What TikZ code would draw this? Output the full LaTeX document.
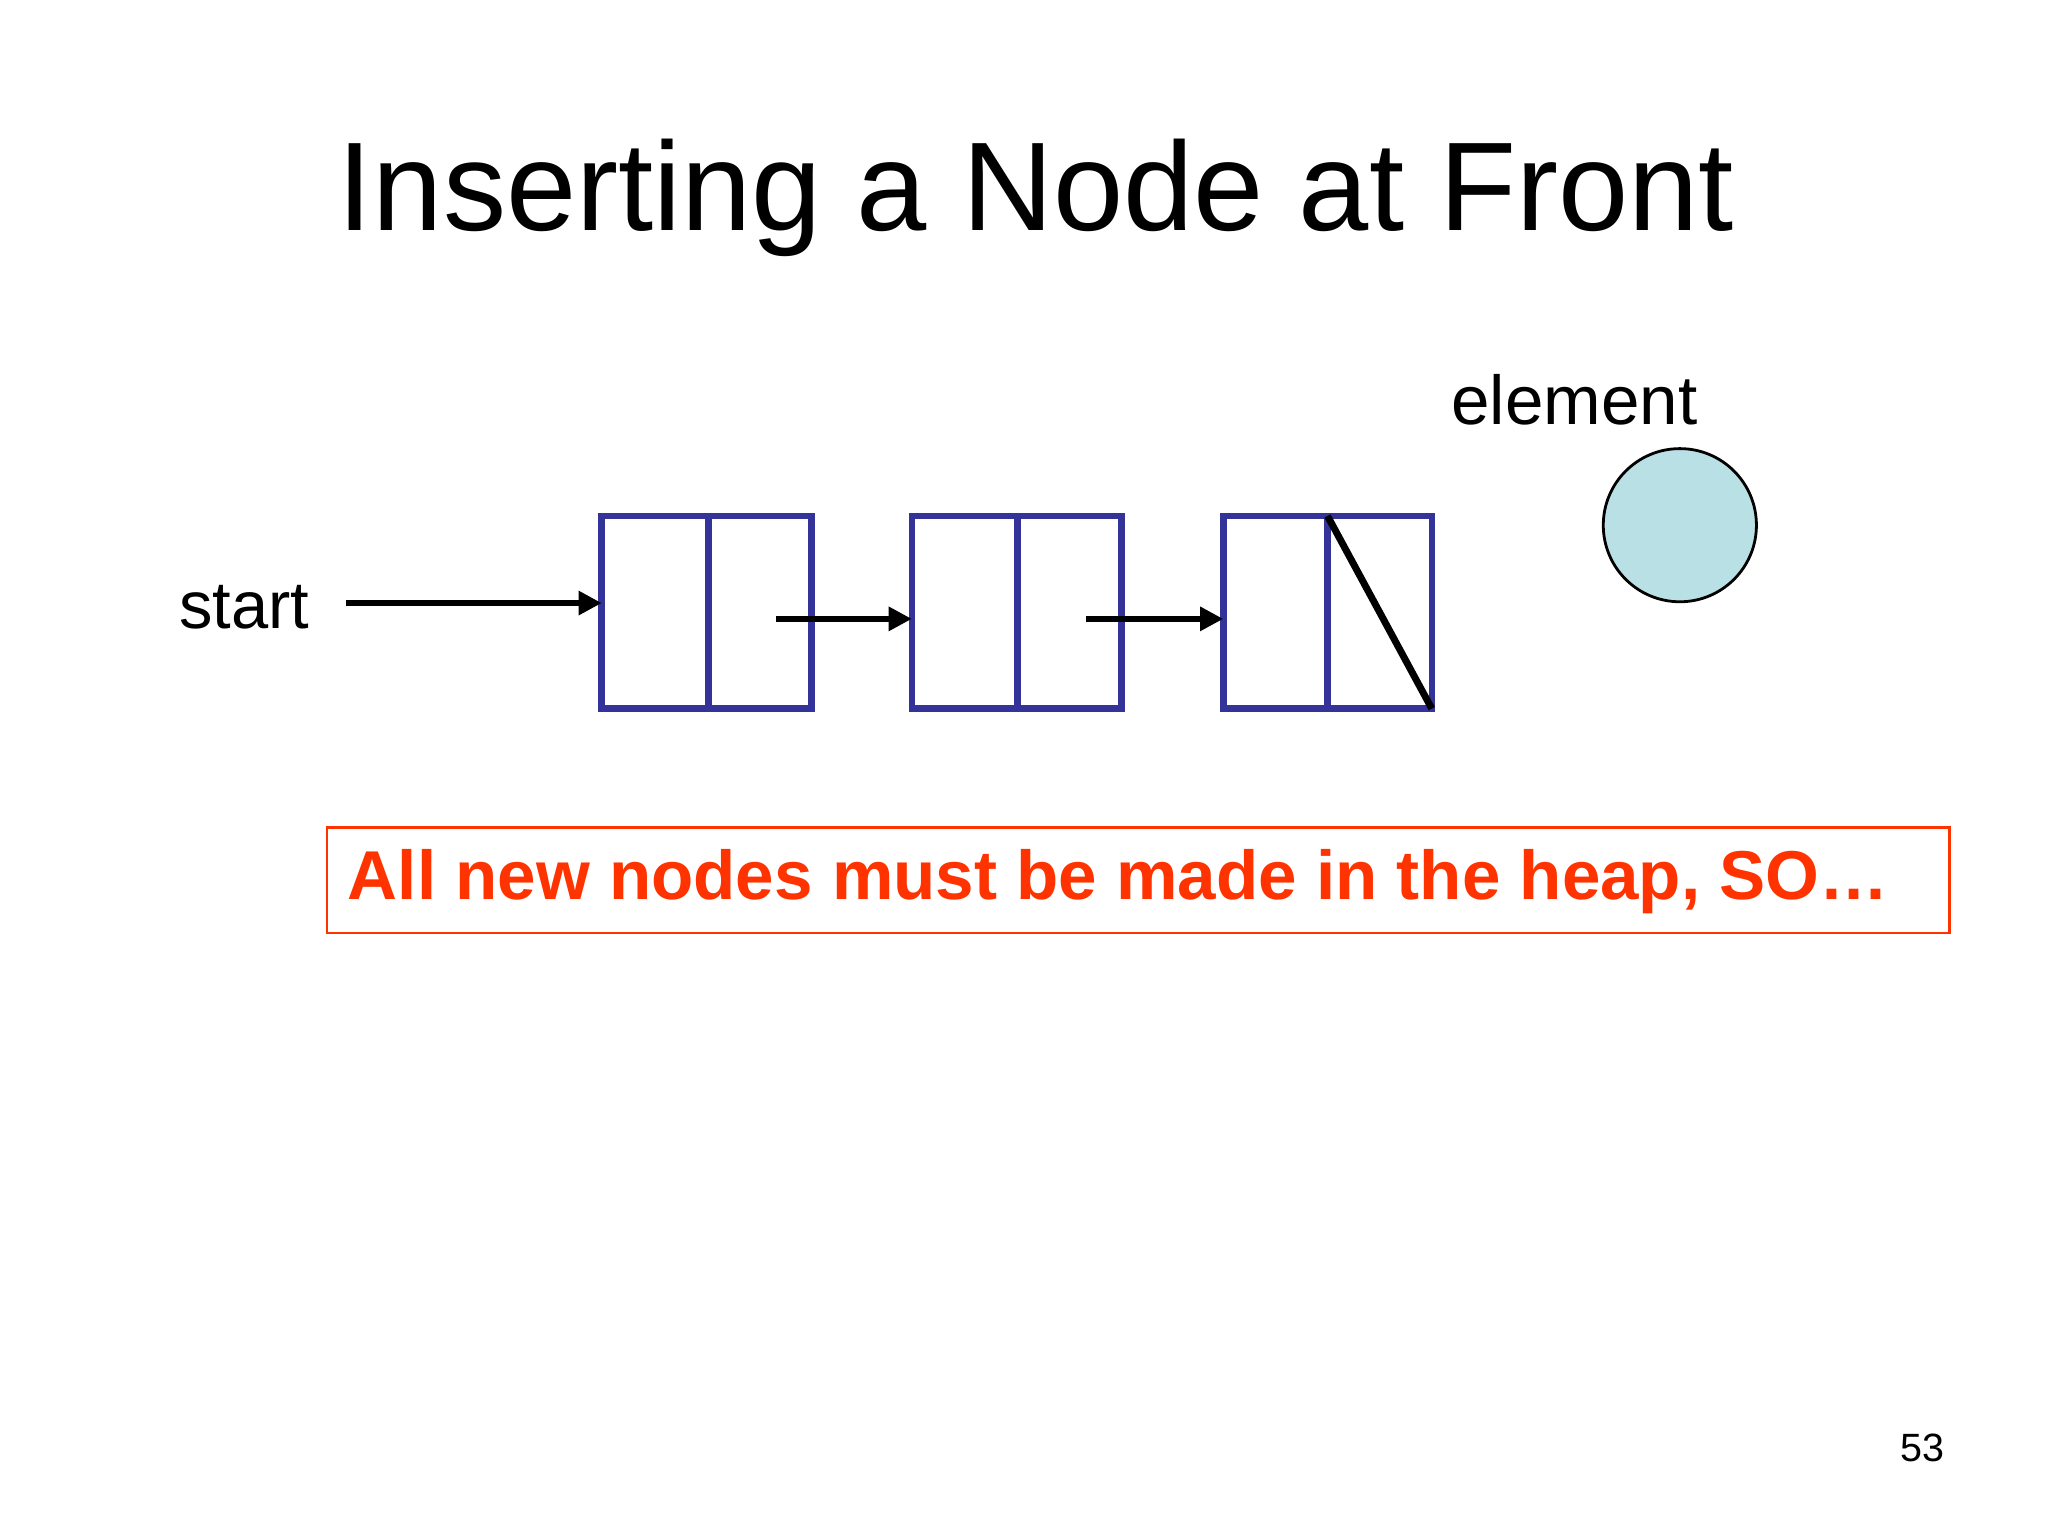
\documentclass[tikz,border=0pt]{standalone}
\usepackage{fontspec}
\setmainfont{Liberation Sans}
\usetikzlibrary{arrows.meta}
\definecolor{boxblue}{RGB}{51,51,153}
\definecolor{alertred}{RGB}{255,51,0}
\definecolor{elemfill}{RGB}{185,224,228}
\begin{document}
\begin{tikzpicture}[x=0.01cm,y=-0.01cm,
  cell/.style={draw=boxblue,line width=1.4pt,fill=white},
  ptr/.style={line width=1.2pt,-{Triangle[length=5pt,width=5pt]}},
  lbl/.style={inner sep=0pt,text=black}]
\useasboundingbox (0,0) rectangle (1552,1164);
\node[lbl,font=\fontsize{27.2}{32}\selectfont] (title) at (785,150) {Inserting a Node at Front};
\node[lbl,font=\fontsize{14.4}{17}\selectfont] (start) at (185,460) {start};
\node[lbl,font=\fontsize{14.9}{17}\selectfont] (elt) at (1193,303) {element};
% boxes
\foreach \n/\a/\m/\b in {1/456/537/615,2/691/771/850,3/927/1006/1085}{
  \draw[cell] (\a,391) rectangle (\b,537);
  \draw[cell] (\m,391) -- (\m,537);
  \coordinate (l\n) at (\a,469);
}
\coordinate (s0) at (262,457);
\coordinate (s1) at (456,457);
\draw[ptr] (s0) -- (s1);
\coordinate (a1) at (588,469);
\coordinate (a2) at (823,469);
\draw[ptr] (a1) -- (l2);
\draw[ptr] (a2) -- (l3);
\coordinate (d0) at (1006,391);
\coordinate (d1) at (1085,537);
\draw[line width=1.5pt] (d0) -- (d1);
\node[circle,draw=black,line width=0.6pt,fill=elemfill,minimum size=1.16cm,inner sep=0pt] (circ) at (1273,398) {};
\node[draw=alertred,line width=0.5pt,minimum width=12.29cm,minimum height=0.8cm,inner sep=0pt] (note) at (862.5,667) {};
\node[lbl,anchor=west,text=alertred,font=\bfseries\fontsize{14.9}{18}\selectfont] (notetxt) at (263,668) {All new nodes must be made in the heap, SO…};
\node[lbl,font=\fontsize{8.5}{10}\selectfont] (pg) at (1457,1097) {53};
\end{tikzpicture}
\end{document}
